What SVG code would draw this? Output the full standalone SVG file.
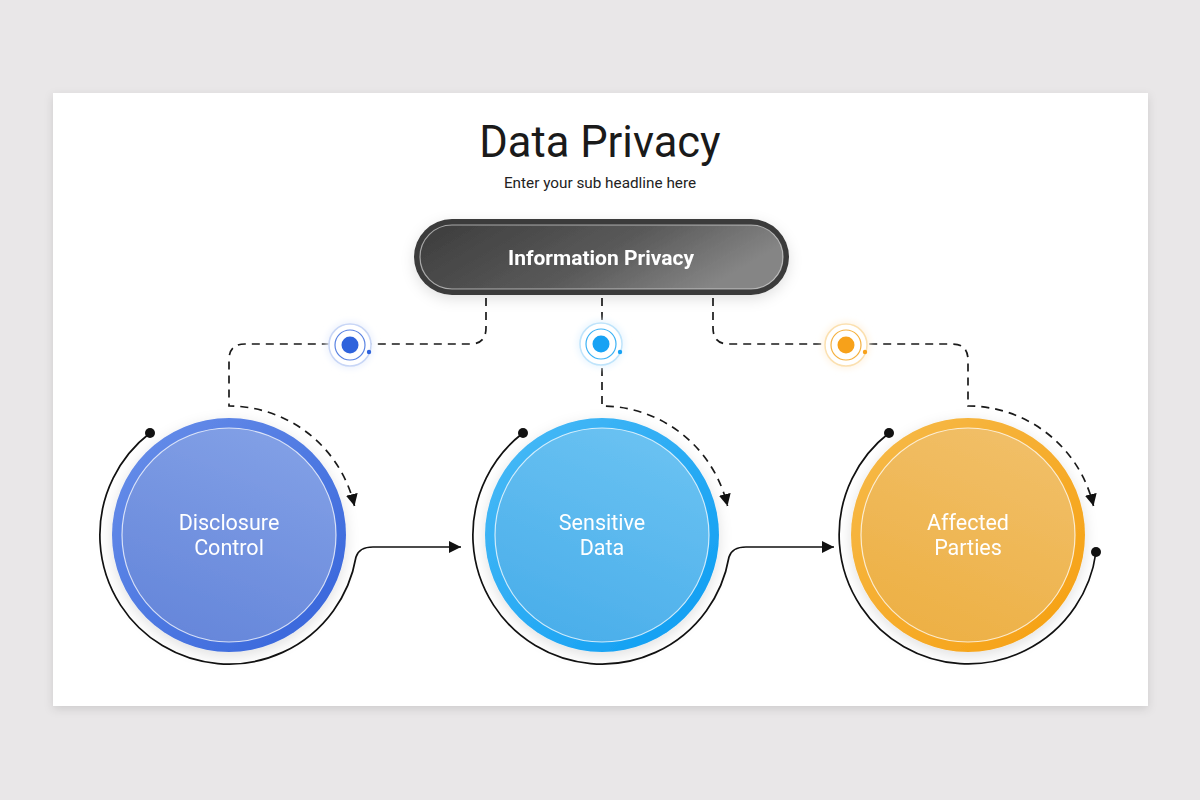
<svg xmlns="http://www.w3.org/2000/svg" width="1200" height="800" viewBox="0 0 1200 800">
<defs>
  <style>
    .title{font-family:Roboto,"Liberation Sans",sans-serif;font-size:43.5px;fill:#1a1a1a;text-anchor:middle}
    .sub{font-family:Roboto,"Liberation Sans",sans-serif;font-size:15.3px;fill:#222;text-anchor:middle}
    .pill{font-family:Roboto,"Liberation Sans",sans-serif;font-size:21px;font-weight:bold;fill:#fff;text-anchor:middle}
    .lbl{font-family:Roboto,"Liberation Sans",sans-serif;font-size:21.5px;fill:#fff;text-anchor:middle}
    .dash{fill:none;stroke:#1a1a1a;stroke-width:1.7;stroke-dasharray:8 6}
    .solid{fill:none;stroke:#111;stroke-width:1.7}
    .inner{stroke:rgba(255,255,255,0.75);stroke-width:1.2}
  </style>
  <filter id="cardShadow" x="-10%" y="-10%" width="120%" height="120%">
    <feDropShadow dx="0" dy="3" stdDeviation="5" flood-color="#000" flood-opacity="0.12"/>
  </filter>
  <filter id="soft" x="-30%" y="-30%" width="160%" height="160%">
    <feDropShadow dx="0" dy="4" stdDeviation="7" flood-color="#000" flood-opacity="0.12"/>
  </filter>
  <filter id="glow" x="-50%" y="-50%" width="200%" height="200%">
    <feGaussianBlur stdDeviation="3"/>
  </filter>
  <marker id="arr" viewBox="0 0 12 12" refX="12" refY="6" markerWidth="12" markerHeight="12" markerUnits="userSpaceOnUse" orient="auto">
    <path d="M0,0 L12,6 L0,12 Z" fill="#111"/>
  </marker>
  <linearGradient id="pillG" x1="0" y1="0" x2="1" y2="0.3">
    <stop offset="0" stop-color="#3c3c3c"/>
    <stop offset="0.6" stop-color="#5a5a5a"/>
    <stop offset="1" stop-color="#858585"/>
  </linearGradient>
  <linearGradient id="b1r" x1="0" y1="0" x2="1" y2="1">
    <stop offset="0" stop-color="#6a90ea"/><stop offset="1" stop-color="#3463da"/>
  </linearGradient>
  <linearGradient id="b1i" x1="0.7" y1="0" x2="0.3" y2="1">
    <stop offset="0" stop-color="#82a0e6"/><stop offset="1" stop-color="#6586da"/>
  </linearGradient>
  <linearGradient id="b2r" x1="0" y1="0" x2="1" y2="1">
    <stop offset="0" stop-color="#4cbbf6"/><stop offset="1" stop-color="#0a9cf2"/>
  </linearGradient>
  <linearGradient id="b2i" x1="0.7" y1="0" x2="0.3" y2="1">
    <stop offset="0" stop-color="#6ac2f2"/><stop offset="1" stop-color="#4aaeea"/>
  </linearGradient>
  <linearGradient id="b3r" x1="0" y1="0" x2="1" y2="1">
    <stop offset="0" stop-color="#f6bb4c"/><stop offset="1" stop-color="#f69f0f"/>
  </linearGradient>
  <linearGradient id="b3i" x1="0.7" y1="0" x2="0.3" y2="1">
    <stop offset="0" stop-color="#f1bf68"/><stop offset="1" stop-color="#edb044"/>
  </linearGradient>
</defs>

<rect width="1200" height="800" fill="#e9e7e8"/>
<rect x="53" y="93" width="1095" height="613" fill="#fff" filter="url(#cardShadow)"/>

<text class="title" x="600" y="157">Data Privacy</text>
<text class="sub" x="600" y="188">Enter your sub headline here</text>

<g id="connectors">
  <path class="dash" d="M486,298 V328 Q486,344 470,344 H245 Q229,344 229,360 V406 A129,129 0 0 1 354.5,506" marker-end="url(#arr)"/>
  <path class="dash" d="M602,298 V406 A129,129 0 0 1 727.5,506" marker-end="url(#arr)"/>
  <path class="dash" d="M713,298 V328 Q713,344 729,344 H952 Q968,344 968,360 V406 A129,129 0 0 1 1093.5,506" marker-end="url(#arr)"/>
  <path class="solid" d="M150,433 A129,129 0 1 0 356,557 Q359,547 373,547 H461" marker-end="url(#arr)"/>
  <path class="solid" d="M523,433 A129,129 0 1 0 729,557 Q732,547 746,547 H834" marker-end="url(#arr)"/>
  <path class="solid" d="M889,433 A129,129 0 1 0 1096,552"/>
  <circle cx="150" cy="433" r="5" fill="#111"/>
  <circle cx="523" cy="433" r="5" fill="#111"/>
  <circle cx="889" cy="433" r="5" fill="#111"/>
  <circle cx="1096" cy="552" r="5" fill="#111"/>
</g>

<g id="info-privacy" filter="url(#soft)">
  <rect x="414" y="219" width="375" height="76" rx="38" fill="#3a3a3a"/>
  <rect x="420" y="225" width="363" height="64" rx="32" fill="url(#pillG)" stroke="rgba(255,255,255,0.55)" stroke-width="1.2"/>
  <text class="pill" x="601" y="264.5">Information Privacy</text>
</g>

<g id="icon-blue">
  <circle cx="350" cy="345" r="24" fill="#eef3fd" filter="url(#glow)"/>
  <circle cx="350" cy="345" r="21" fill="#fff" stroke="#c8d6f6" stroke-width="1.5"/>
  <circle cx="350" cy="345" r="15" fill="none" stroke="#5a83e2" stroke-width="1.2"/>
  <circle cx="350" cy="345" r="8.5" fill="#2f63dc"/>
  <circle cx="369" cy="352" r="2.2" fill="#2f63dc"/>
</g>
<g id="icon-cyan">
  <circle cx="601" cy="344" r="24" fill="#eaf6fe" filter="url(#glow)"/>
  <circle cx="601" cy="344" r="21" fill="#fff" stroke="#bfe4fb" stroke-width="1.5"/>
  <circle cx="601" cy="344" r="15" fill="none" stroke="#3cb2f5" stroke-width="1.2"/>
  <circle cx="601" cy="344" r="8.5" fill="#17a2f4"/>
  <circle cx="620" cy="352" r="2.2" fill="#17a2f4"/>
</g>
<g id="icon-orange">
  <circle cx="846" cy="345" r="24" fill="#fef5e6" filter="url(#glow)"/>
  <circle cx="846" cy="345" r="21" fill="#fff" stroke="#fbe0b0" stroke-width="1.5"/>
  <circle cx="846" cy="345" r="15" fill="none" stroke="#f5b140" stroke-width="1.2"/>
  <circle cx="846" cy="345" r="8.5" fill="#f7a11a"/>
  <circle cx="865" cy="352" r="2.2" fill="#f7a11a"/>
</g>

<g id="disclosure-control" filter="url(#soft)">
  <circle cx="229" cy="535" r="117" fill="url(#b1r)"/>
  <circle class="inner" cx="229" cy="535" r="107" fill="url(#b1i)"/>
  <text class="lbl" x="229" y="530">Disclosure</text>
  <text class="lbl" x="229" y="555">Control</text>
</g>
<g id="sensitive-data" filter="url(#soft)">
  <circle cx="602" cy="535" r="117" fill="url(#b2r)"/>
  <circle class="inner" cx="602" cy="535" r="107" fill="url(#b2i)"/>
  <text class="lbl" x="602" y="530">Sensitive</text>
  <text class="lbl" x="602" y="555">Data</text>
</g>
<g id="affected-parties" filter="url(#soft)">
  <circle cx="968" cy="535" r="117" fill="url(#b3r)"/>
  <circle class="inner" cx="968" cy="535" r="107" fill="url(#b3i)"/>
  <text class="lbl" x="968" y="530">Affected</text>
  <text class="lbl" x="968" y="555">Parties</text>
</g>
</svg>
